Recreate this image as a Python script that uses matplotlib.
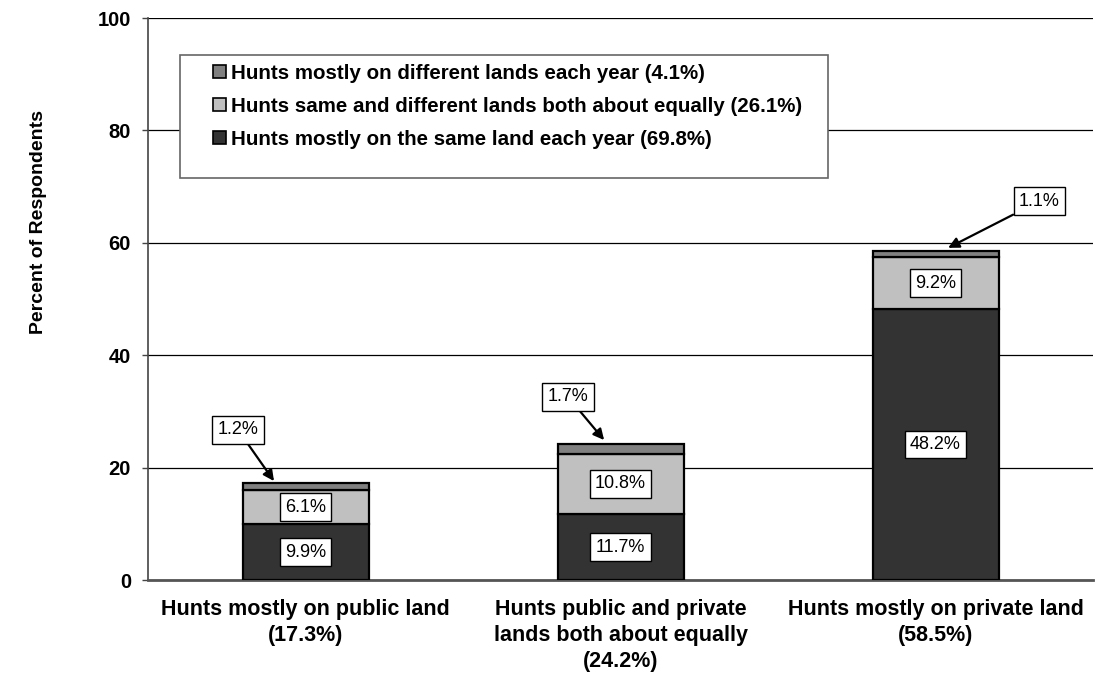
import matplotlib
matplotlib.use("Agg")
import matplotlib.pyplot as plt
from matplotlib.patches import Rectangle
import numpy as np

categories = ["Hunts mostly on public land\n(17.3%)",
              "Hunts public and private\nlands both about equally\n(24.2%)",
              "Hunts mostly on private land\n(58.5%)"]
same_land = [9.9, 11.7, 48.2]
both_equal = [6.1, 10.8, 9.2]
different = [1.2, 1.7, 1.1]
series_labels = ["Hunts mostly on the same land each year (69.8%)",
                 "Hunts same and different lands both about equally (26.1%)",
                 "Hunts mostly on different lands each year (4.1%)"]
yticks = [0, 20, 40, 60, 80, 100]

plt.rcParams['font.family'] = ['Liberation Sans', 'DejaVu Sans']

W, H = 1097, 683
fig = plt.figure(figsize=(W / 100, H / 100), dpi=100)
ax = fig.add_axes([148 / W, 1 - 580 / H, (1093 - 148) / W, (580 - 18) / H])

x = np.arange(len(categories))
w = 0.40
c_dark, c_light, c_mid = "#333333", "#C0C0C0", "#808080"
b1 = ax.bar(x, same_land, w, color=c_dark, edgecolor="black", linewidth=1.6, zorder=3)
b2 = ax.bar(x, both_equal, w, bottom=same_land, color=c_light, edgecolor="black", linewidth=1.6, zorder=3)
bottom3 = np.array(same_land) + np.array(both_equal)
b3 = ax.bar(x, different, w, bottom=bottom3, color=c_mid, edgecolor="black", linewidth=1.6, zorder=3)

ax.set_xlim(-0.5, 2.5)
ax.set_ylim(0, 100)
ax.set_yticks(yticks)
ax.set_yticklabels([str(t) for t in yticks], fontsize=14.5, fontweight="bold")
ax.set_xticks(x)
ax.set_xticklabels(categories, fontsize=15.5, fontweight="bold", linespacing=1.3)
ax.tick_params(axis='x', length=0, pad=14)
ax.tick_params(axis='y', length=4.3, width=1, direction='out', pad=8, color="#444444")
ax.grid(axis='y', color='black', linewidth=0.9, zorder=0)
for s in ["top", "right"]:
    ax.spines[s].set_visible(False)
ax.spines["left"].set_color("#444444")
ax.spines["bottom"].set_color("#555555")
ax.spines["left"].set_linewidth(1.2)
ax.spines["bottom"].set_linewidth(2.0)
fig.text(39 / W, 1 - 222 / H, "Percent of Respondents", rotation=90, ha="center", va="center",
         fontsize=14, fontweight="bold")

box = dict(boxstyle="square,pad=0.3", facecolor="white", edgecolor="black", linewidth=1)
for i in range(3):
    ax.text(x[i], same_land[i] / 2, f"{same_land[i]}%", ha="center", va="center", fontsize=13, bbox=box, zorder=5)
    ax.text(x[i], same_land[i] + both_equal[i] / 2, f"{both_equal[i]}%", ha="center", va="center", fontsize=13, bbox=box, zorder=5)

label_pos = [(-0.214, 26.7), (0.833, 32.6), (2.33, 67.4)]
tip_pos = [(-0.10, 17.6), (0.948, 24.9), (2.04, 59.1)]
for i in range(3):
    ax.annotate(f"{different[i]}%", xy=tip_pos[i], xytext=label_pos[i],
                ha="center", va="center", fontsize=13, bbox=box, zorder=6,
                arrowprops=dict(arrowstyle="-|>", color="black", lw=1.6, mutation_scale=16, shrinkA=0, shrinkB=0))

# legend frame drawn separately
frame = Rectangle((180 / W, 1 - 178 / H), (828 - 180) / W, (178 - 55) / H, transform=fig.transFigure,
                  facecolor="white", edgecolor="#666666", linewidth=1.2, zorder=9)
fig.patches.append(frame)

handles = [b3, b2, b1]
leg = fig.legend(handles, [series_labels[2], series_labels[1], series_labels[0]],
                 loc="upper left", bbox_to_anchor=(213 / W, 1 - 64 / H), frameon=False,
                 prop={'weight': 'bold', 'size': 14.8}, handlelength=0.62, handleheight=0.62,
                 handletextpad=0.25, labelspacing=0.68, borderpad=0, borderaxespad=0)
leg.set_zorder(10)
for h in leg.legend_handles:
    h.set_linewidth(1.2)

fig.savefig("out.png", dpi=100)
